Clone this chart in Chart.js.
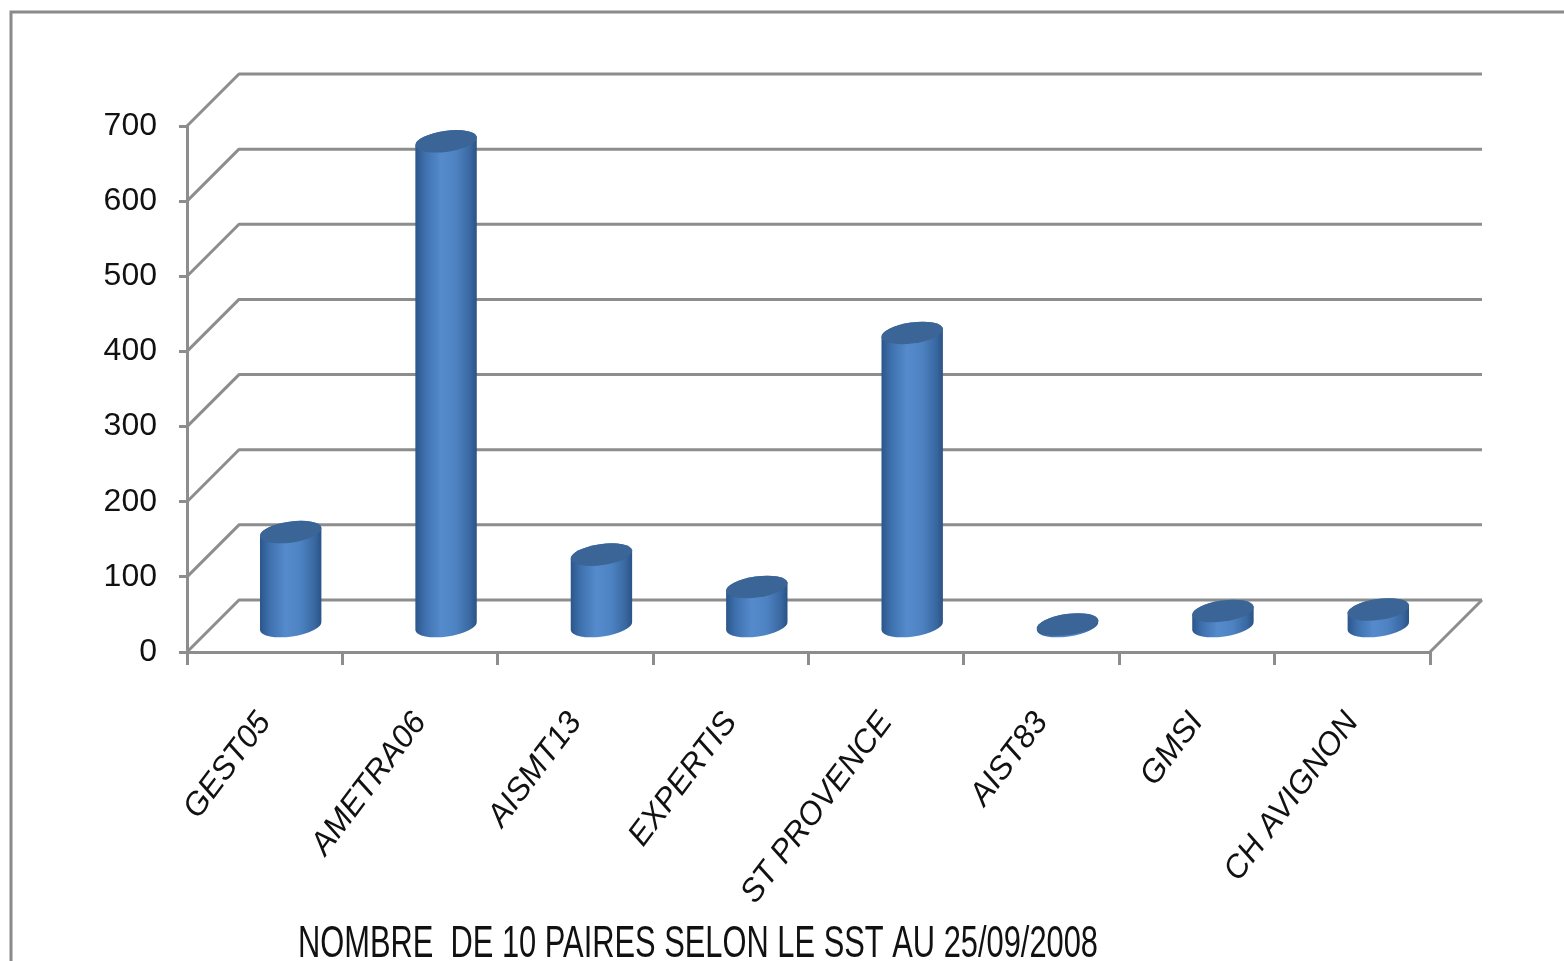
<!DOCTYPE html>
<html>
<head>
<meta charset="utf-8">
<script src="https://cdn.jsdelivr.net/npm/chart.js@4/dist/chart.umd.min.js"></script>
<style>
  html, body { margin: 0; padding: 0; background: #fff; }
  #wrap { width: 1564px; height: 961px; position: relative; }
</style>
</head>
<body>
<div id="wrap"><canvas id="chart"></canvas></div>
<script>
const categories = ['GEST05', 'AMETRA06', 'AISMT13', 'EXPERTIS', 'ST PROVENCE', 'AIST83', 'GMSI', 'CH AVIGNON'];
const pairs = [125, 645, 95, 52, 390, 2, 20, 22];
const yTicks = [0, 100, 200, 300, 400, 500, 600, 700];
const chartTitle = 'NOMBRE  DE 10 PAIRES SELON LE SST AU 25/09/2008';

const FONT = "'Liberation Sans', Arial, sans-serif";
const GRID = '#8d8d8d';
const DEPTH = 52;

// back wall, left wall and floor of the 3d box
const wallsPlugin = {
    id: 'walls',
    beforeDatasetsDraw(chart) {
        const { ctx, scales: { y }, chartArea: a } = chart;
        ctx.save();
        ctx.strokeStyle = GRID;
        ctx.lineWidth = 3;
        ctx.lineJoin = 'round';
        yTicks.forEach(v => {
            const py = y.getPixelForValue(v);
            ctx.beginPath();
            ctx.moveTo(a.left, py);
            ctx.lineTo(a.left + DEPTH, py - DEPTH);
            ctx.lineTo(a.right + DEPTH, py - DEPTH);
            ctx.stroke();
        });
        const p0 = y.getPixelForValue(0);
        ctx.beginPath();
        ctx.moveTo(a.right, p0);
        ctx.lineTo(a.right + DEPTH, p0 - DEPTH);
        ctx.stroke();
        ctx.restore();
    }
};

// cylinders, sitting half way into the box
const cylinderPlugin = {
    id: 'cylinders',
    afterDatasetsDraw(chart) {
        const { ctx, scales: { y } } = chart;
        const meta = chart.getDatasetMeta(0);
        const off = DEPTH / 2;
        const rx = 31, ry = 10.5, rot = -0.14;
        const base = y.getPixelForValue(0) - off;
        ctx.save();
        meta.data.forEach(bar => {
            const cx = bar.x + off;
            const top = bar.y - off;
            const g = ctx.createLinearGradient(cx - rx, 0, cx + rx, 0);
            g.addColorStop(0, '#2b5589');
            g.addColorStop(0.15, '#3d6fac');
            g.addColorStop(0.42, '#558bcc');
            g.addColorStop(0.65, '#4e83c3');
            g.addColorStop(0.88, '#3a69a2');
            g.addColorStop(1, '#2a5285');
            ctx.beginPath();
            ctx.ellipse(cx, base, rx, ry, rot, 0, Math.PI);
            ctx.ellipse(cx, top, rx, ry, rot, Math.PI, Math.PI * 2);
            ctx.closePath();
            ctx.fillStyle = g;
            ctx.fill();
            ctx.beginPath();
            ctx.ellipse(cx, top, rx, ry, rot, 0, Math.PI * 2);
            ctx.fillStyle = '#3a6596';
            ctx.fill();
        });
        ctx.restore();
    }
};

// outer frame and the title under the labels
const framePlugin = {
    id: 'frame',
    afterDraw(chart) {
        const { ctx, width, height } = chart;
        ctx.save();
        ctx.strokeStyle = '#8a8a8a';
        ctx.lineWidth = 3;
        ctx.beginPath();
        ctx.moveTo(11, height);
        ctx.lineTo(11, 12);
        ctx.lineTo(width, 12);
        ctx.stroke();
        ctx.font = '44px ' + FONT;
        ctx.fillStyle = '#111';
        ctx.textBaseline = 'alphabetic';
        const w = ctx.measureText(chartTitle).width;
        ctx.translate(698, 957);
        ctx.scale(800 / w, 1);
        ctx.textAlign = 'center';
        ctx.fillText(chartTitle, 0, 0);
        ctx.restore();
    }
};

new Chart(document.getElementById('chart'), {
    type: 'bar',
    data: {
        labels: categories,
        datasets: [{
            label: 'Paires',
            data: pairs,
            backgroundColor: 'rgba(0,0,0,0)',
            borderWidth: 0
        }]
    },
    options: {
        responsive: true,
        maintainAspectRatio: false,
        animation: false,
        layout: { padding: { left: 0, top: 126, right: 134, bottom: 0 } },
        plugins: {
            legend: { display: false },
            tooltip: { enabled: false },
            title: { display: false }
        },
        scales: {
            x: {
                offset: true,
                grid: { display: true, drawOnChartArea: false, offset: true, color: GRID, lineWidth: 3, tickLength: 13 },
                border: { display: true, color: GRID, width: 3 },
                ticks: {
                    autoSkip: false,
                    minRotation: 53,
                    maxRotation: 53,
                    padding: 40,
                    color: '#111',
                    font: { family: FONT, size: 32, style: 'italic' }
                },
                afterFit: s => { s.height = 961 - 652; }
            },
            y: {
                min: 0,
                max: 700,
                afterBuildTicks: s => { s.ticks = yTicks.map(v => ({ value: v })); },
                grid: { display: true, drawOnChartArea: false, color: GRID, lineWidth: 3, tickLength: 8 },
                border: { display: true, color: GRID, width: 3 },
                ticks: {
                    padding: 22,
                    color: '#111',
                    font: { family: FONT, size: 32 }
                },
                afterFit: s => { s.width = 187; }
            }
        }
    },
    plugins: [wallsPlugin, cylinderPlugin, framePlugin]
});
</script>
</body>
</html>
